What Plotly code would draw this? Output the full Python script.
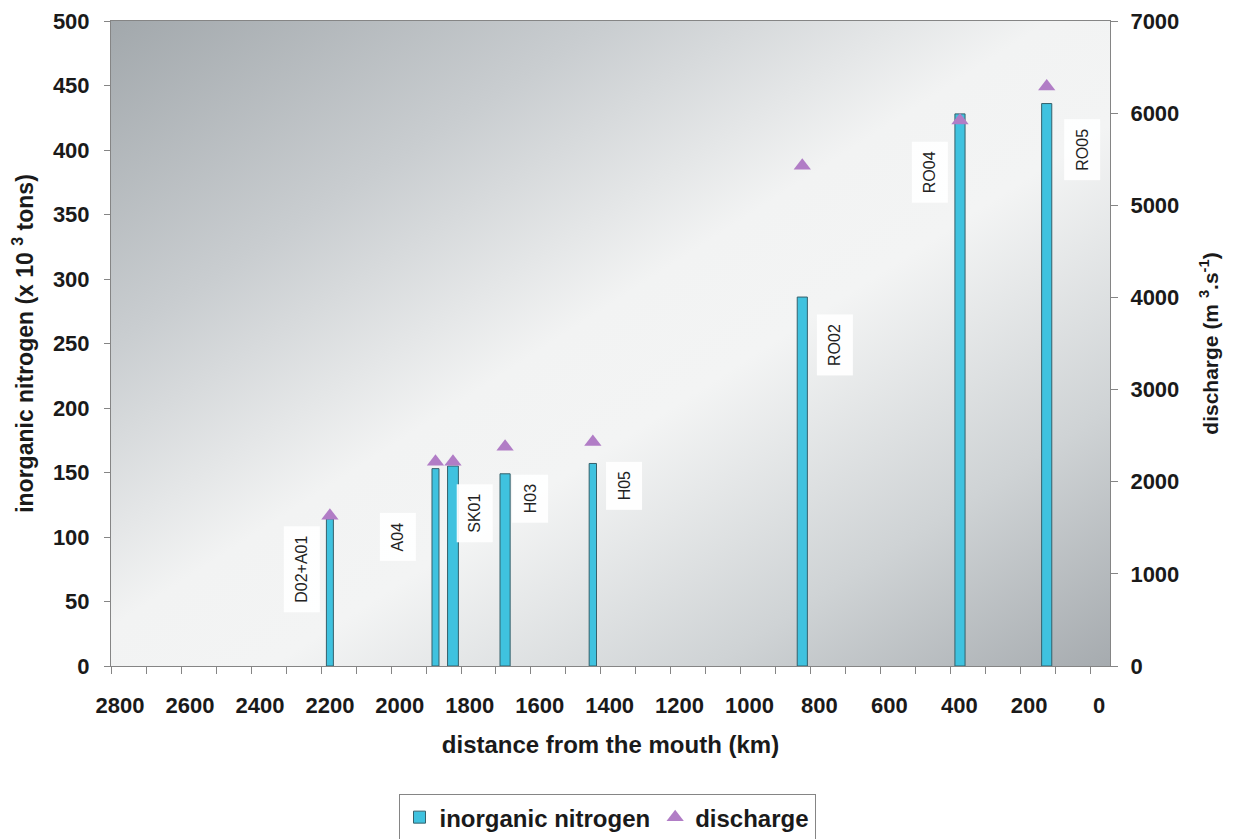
import base64
import plotly.graph_objects as go

# ---- data ----
stations = ["D02+A01", "A04", "SK01", "H03", "H05", "RO02", "RO04", "RO05"]
distance_km = [2200, 1898, 1848, 1699, 1448, 849, 398, 150]
nitrogen_kt = [114, 153, 155, 149, 157, 286, 428, 436]
discharge_m3s = [1630, 2217, 2217, 2380, 2430, 5430, 5920, 6290]
# label anchor positions (km, left-axis units)
label_x_km = [2281, 2007, 1785, 1628, 1359, 755, 483, 50]
label_y = [75, 100, 118, 130, 140, 249, 383, 400]
x_tick_vals = [2800, 2600, 2400, 2200, 2000, 1800, 1600, 1400, 1200, 1000, 800, 600, 400, 200, 0]

# ---- styles ----
bar_widths = [20, 20, 31, 29, 21, 29, 29, 29]
BAR_COLOR = "#3fc2df"
BAR_LINE = "#35606b"
TRI_COLOR = "#b17dc6"
AXIS_GRAY = "#858585"
FONT = "Liberation Sans, Arial, Helvetica, sans-serif"
NARROW = "Liberation Sans Narrow, Arial Narrow, Liberation Sans, Arial, sans-serif"

svg = (
    '<svg xmlns="http://www.w3.org/2000/svg" width="100" height="100" '
    'viewBox="0 0 100 100" preserveAspectRatio="none">'
    '<defs><linearGradient id="g" x1="0" y1="0" x2="1" y2="1">'
    '<stop offset="0" stop-color="#a2a8ac"/>'
    '<stop offset="0.25" stop-color="#c9cdd0"/>'
    '<stop offset="0.47" stop-color="#f2f3f3"/>'
    '<stop offset="0.58" stop-color="#f3f4f4"/>'
    '<stop offset="0.8" stop-color="#cfd3d5"/>'
    '<stop offset="1" stop-color="#a6abaf"/>'
    '</linearGradient></defs>'
    '<rect x="0" y="0" width="100" height="100" fill="url(#g)"/></svg>'
)
svg_uri = "data:image/svg+xml;base64," + base64.b64encode(svg.encode()).decode()

fig = go.Figure()
fig.add_trace(go.Bar(
    x=distance_km, y=nitrogen_kt, width=bar_widths,
    name="inorganic nitrogen",
    marker=dict(color=BAR_COLOR, line=dict(color=BAR_LINE, width=1)),
    yaxis="y",
))
fig.add_trace(go.Scatter(
    x=distance_km, y=discharge_m3s, mode="markers", name="discharge",
    marker=dict(symbol="triangle-up", size=15, color=TRI_COLOR),
    yaxis="y2",
))

for name, lx, ly in zip(stations, label_x_km, label_y):
    fig.add_annotation(
        x=lx, y=ly, xref="x", yref="y", text=name, showarrow=False,
        textangle=-90, font=dict(family=NARROW, size=16, color="#222222"),
        bgcolor="rgba(255,255,255,0.92)", borderpad=9,
    )

fig.add_layout_image(dict(
    source=svg_uri, xref="paper", yref="paper", x=0, y=1, sizex=1, sizey=1,
    xanchor="left", yanchor="top", sizing="stretch", layer="below",
))

# page body has an 8px margin, so the figure is sized/offset to compensate
fig.update_layout(
    width=1226, height=831,
    margin=dict(l=103, r=124, t=13, b=173, autoexpand=False),
    paper_bgcolor="white", plot_bgcolor="rgba(0,0,0,0)",
    font=dict(family=FONT, color="#1a1a1a"),
    showlegend=True,
    legend=dict(
        orientation="h", x=0.4965, xanchor="center", y=-0.1985, yanchor="top",
        bordercolor=AXIS_GRAY, borderwidth=1, bgcolor="white",
        font=dict(family=FONT, size=24, color="#1a1a1a", weight="bold"),
        itemwidth=30, tracegroupgap=0,
    ),
    xaxis=dict(
        range=[2826, -31], tickvals=x_tick_vals, ticks="",
        ticklabelstandoff=20, automargin=False,
        tickfont=dict(family=FONT, size=22, weight="bold"),
        showline=True, linecolor=AXIS_GRAY, linewidth=1, mirror=True,
        showgrid=False, zeroline=False,
        minor=dict(tick0=25, dtick=100, ticks="outside", ticklen=7,
                   tickcolor=AXIS_GRAY, showgrid=False),
        title=dict(text="distance from the mouth (km)", standoff=18,
                   font=dict(family=FONT, size=24, weight="bold")),
    ),
    yaxis=dict(
        range=[0, 500], dtick=50, ticks="outside", ticklen=6,
        tickcolor=AXIS_GRAY, ticklabelstandoff=10, automargin=False,
        tickfont=dict(family=FONT, size=22, weight="bold"),
        showline=True, linecolor=AXIS_GRAY, linewidth=1,
        showgrid=False, zeroline=False,
        title=dict(text="inorganic nitrogen (x 10 <sup>3</sup> tons)", standoff=16,
                   font=dict(family=FONT, size=23, weight="bold")),
    ),
    yaxis2=dict(
        range=[0, 7000], dtick=1000, overlaying="y", side="right",
        ticks="outside", ticklen=7, tickcolor=AXIS_GRAY, ticklabelstandoff=8,
        automargin=False,
        tickfont=dict(family=FONT, size=22, weight="bold"),
        showline=True, linecolor=AXIS_GRAY, linewidth=1,
        showgrid=False, zeroline=False,
        title=dict(text="discharge (m <sup>3</sup>.s<sup>-1</sup>)", standoff=24,
                   font=dict(family=FONT, size=21, weight="bold")),
    ),
)

fig.write_html("out.html")
